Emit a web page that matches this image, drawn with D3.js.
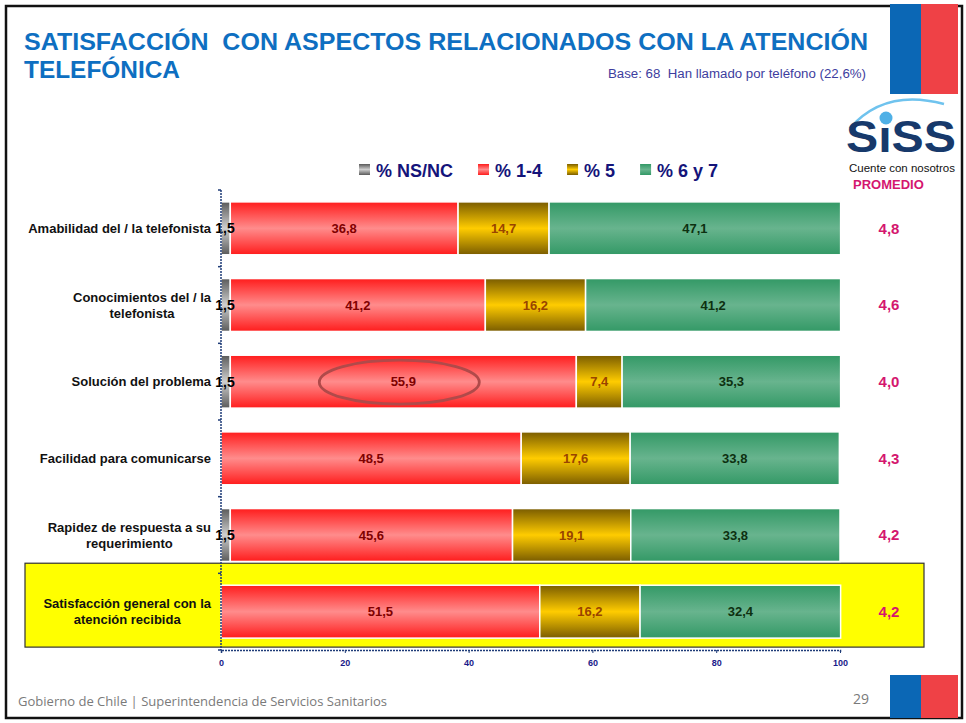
<!DOCTYPE html>
<html>
<head>
<meta charset="utf-8">
<script src="https://cdn.jsdelivr.net/npm/d3@7"></script>
<style>
  html, body { margin: 0; padding: 0; background: #fff; }
  svg { display: block; font-family: "Liberation Sans", Arial, sans-serif; }
  .pre { white-space: pre; }
</style>
</head>
<body>
<svg id="chart" width="966" height="723"></svg>
<script>
// data
const categories = [
  "Amabilidad del / la telefonista",
  "Conocimientos del / la\ntelefonista",
  "Solución del problema",
  "Facilidad para comunicarse",
  "Rapidez de respuesta a su\nrequerimiento",
  "Satisfacción general con la\natención recibida"
];
const seriesNames = ["% NS/NC", "% 1-4", "% 5", "% 6 y 7"];
const nsnc = [1.5, 1.5, 1.5, 0, 1.5, 0];
const r14 = [36.8, 41.2, 55.9, 48.5, 45.6, 51.5];
const r5 = [14.7, 16.2, 7.4, 17.6, 19.1, 16.2];
const r67 = [47.1, 41.2, 35.3, 33.8, 33.8, 32.4];
const promedio = [4.8, 4.6, 4.0, 4.3, 4.2, 4.2];
const xTicks = [0, 20, 40, 60, 80, 100];
const highlighted = "Satisfacción general con la\natención recibida";
const circled = { category: "Solución del problema", series: "% 1-4" };

const fmt = v => d3.format(".1f")(v).replace(".", ",");

const svg = d3.select("#chart");
const defs = svg.append("defs");

// bar gradients (dark edge -> light middle -> dark edge)
const grads = [
  { id: "gGray", edge: "#5a5a5a", mid: "#cfcfcf", text: "#000" },
  { id: "gRed", edge: "#ff1c1c", mid: "#ff8c8c", text: "#800000" },
  { id: "gGold", edge: "#7a5c00", mid: "#ffcc00", text: "#994400" },
  { id: "gGreen", edge: "#339966", mid: "#68b48e", text: "#0d3010" }
];
grads.forEach(g => {
  const lg = defs.append("linearGradient").attr("id", g.id)
    .attr("x1", 0).attr("y1", 0).attr("x2", 0).attr("y2", 1);
  lg.append("stop").attr("offset", "0%").attr("stop-color", g.edge);
  lg.append("stop").attr("offset", "50%").attr("stop-color", g.mid);
  lg.append("stop").attr("offset", "100%").attr("stop-color", g.edge);
});

// slide frame
svg.append("rect").attr("x", 6).attr("y", 6).attr("width", 956).attr("height", 712)
  .attr("fill", "#fff").attr("stroke", "#111").attr("stroke-width", 2.5);

// flags
function flag(y0, h) {
  svg.append("rect").attr("x", 890).attr("y", y0).attr("width", 31).attr("height", h).attr("fill", "#0b67b5");
  svg.append("rect").attr("x", 921).attr("y", y0).attr("width", 37).attr("height", h).attr("fill", "#ef4146");
}
flag(4, 90);
flag(675, 43);

// title
svg.append("text").attr("class", "pre").attr("x", 24).attr("y", 50)
  .attr("textLength", 844).attr("lengthAdjust", "spacingAndGlyphs")
  .style("font-size", "23px").style("font-weight", "bold").attr("fill", "#0e6fc1")
  .text("SATISFACCIÓN  CON ASPECTOS RELACIONADOS CON LA ATENCIÓN");
svg.append("text").attr("x", 24).attr("y", 78)
  .attr("textLength", 156).attr("lengthAdjust", "spacingAndGlyphs")
  .style("font-size", "23px").style("font-weight", "bold").attr("fill", "#0e6fc1")
  .text("TELEFÓNICA");
svg.append("text").attr("class", "pre").attr("x", 866).attr("y", 78).attr("text-anchor", "end")
  .attr("textLength", 258).attr("lengthAdjust", "spacingAndGlyphs")
  .style("font-size", "12px").attr("fill", "#3d3d9e")
  .text("Base: 68  Han llamado por teléfono (22,6%)");

// SiSS logo
svg.append("path").attr("d", "M850,128 Q885,88 944,104")
  .attr("fill", "none").attr("stroke", "#6fc3ee").attr("stroke-width", 2.5);
svg.append("text").attr("x", 846).attr("y", 152)
  .attr("textLength", 110).attr("lengthAdjust", "spacingAndGlyphs")
  .style("font-size", "44px").style("font-weight", "bold").attr("fill", "#17396b")
  .text("SıSS");
svg.append("circle").attr("cx", 886).attr("cy", 118).attr("r", 6.5).attr("fill", "#4fb0e6");
svg.append("text").attr("x", 849).attr("y", 172)
  .attr("textLength", 106).attr("lengthAdjust", "spacingAndGlyphs")
  .style("font-size", "11px").attr("fill", "#111").text("Cuente con nosotros");
svg.append("text").attr("x", 853).attr("y", 189)
  .style("font-size", "13px").style("font-weight", "bold").attr("fill", "#d4166e").text("PROMEDIO");

// scales
const x = d3.scaleLinear().domain([0, 100]).range([221, 840]);
const y = d3.scaleBand().domain(categories).range([190, 650])
  .paddingInner(0.31).paddingOuter(0.155);

// highlight box for the overall row
svg.append("rect")
  .attr("x", 25).attr("y", y(highlighted) - 22)
  .attr("width", 924 - 25).attr("height", y.bandwidth() + 31)
  .attr("fill", "#ffff00").attr("stroke", "#333").attr("stroke-width", 1.2);

// stacked bars
const table = categories.map((c, i) => ({
  cat: c, "% NS/NC": nsnc[i], "% 1-4": r14[i], "% 5": r5[i], "% 6 y 7": r67[i]
}));
const stack = d3.stack().keys(seriesNames)(table);

const layer = svg.append("g").selectAll("g").data(stack).join("g")
  .attr("fill", (d, i) => `url(#${grads[i].id})`);
layer.selectAll("rect").data(d => d.filter(s => s[1] - s[0] > 0)).join("rect")
  .attr("x", d => x(d[0]))
  .attr("y", d => y(d.data.cat))
  .attr("width", d => x(d[1]) - x(d[0]))
  .attr("height", y.bandwidth())
  .attr("stroke", "#fff").attr("stroke-width", 1.5);

// segment labels
stack.forEach((s, i) => {
  svg.append("g").selectAll("text").data(s.filter(d => d[1] - d[0] > 0)).join("text")
    .attr("x", d => i === 0 ? x(d[0]) + 4 : (x(d[0]) + x(d[1])) / 2)
    .attr("y", d => y(d.data.cat) + y.bandwidth() / 2)
    .attr("dy", "0.35em").attr("text-anchor", "middle")
    .style("font-size", i === 0 ? "14px" : "13px").style("font-weight", "bold")
    .attr("fill", grads[i].text)
    .text(d => fmt(d[1] - d[0]));
});

// circled value
const ci = categories.indexOf(circled.category);
const cs = stack[seriesNames.indexOf(circled.series)][ci];
svg.append("ellipse")
  .attr("cx", (x(cs[0]) + x(cs[1])) / 2 - 4)
  .attr("cy", y(circled.category) + y.bandwidth() / 2 + 0.5)
  .attr("rx", 80).attr("ry", 22)
  .attr("fill", "none").attr("stroke", "#b04a4a").attr("stroke-width", 2.8);

// category labels (multi-line centered, block right-aligned)
categories.forEach(c => {
  const lines = c.split("\n");
  const t = svg.append("text").style("font-size", "13px").style("font-weight", "bold")
    .attr("fill", "#111").attr("text-anchor", "middle");
  const spans = lines.map(l => t.append("tspan").text(l));
  const w = d3.max(spans, s => s.node().getComputedTextLength());
  const cy = y(c) + y.bandwidth() / 2;
  spans.forEach((s, k) => {
    s.attr("x", 211 - w / 2).attr("y", cy + (k - (lines.length - 1) / 2) * 16).attr("dy", "0.35em");
  });
});

// promedio
svg.append("g").selectAll("text").data(categories).join("text")
  .attr("x", 889).attr("y", d => y(d) + y.bandwidth() / 2).attr("dy", "0.35em")
  .attr("text-anchor", "middle")
  .style("font-size", "15px").style("font-weight", "bold").attr("fill", "#d4166e")
  .text((d, i) => fmt(promedio[i]));

// axes
const xAxis = svg.append("g").attr("transform", "translate(0,650)")
  .call(d3.axisBottom(x).tickValues(xTicks).tickSize(3).tickFormat(d3.format("d")));
xAxis.select(".domain").attr("stroke", "#1f3c78").attr("stroke-width", 1.5).attr("stroke-dasharray", "2,1");
xAxis.selectAll(".tick line").attr("stroke", "#1f3c78");
xAxis.selectAll(".tick text").attr("fill", "#1a1a8a").style("font-size", "9px")
  .style("font-weight", "bold").attr("dy", "1.1em")
  .style("font-family", "'Liberation Sans', Arial, sans-serif");

const yBounds = d3.range(categories.length + 1).map(i => 190 + i * y.step());
svg.append("line").attr("x1", 221).attr("x2", 221).attr("y1", 190).attr("y2", 650)
  .attr("stroke", "#1f3c78").attr("stroke-width", 1.5).attr("stroke-dasharray", "2,1");
svg.append("g").selectAll("line").data(yBounds).join("line")
  .attr("x1", 218).attr("x2", 221).attr("y1", d => d).attr("y2", d => d)
  .attr("stroke", "#1f3c78").attr("stroke-width", 1.5);

// legend
const legend = svg.append("g");
let lx = 359;
seriesNames.forEach((n, i) => {
  legend.append("rect").attr("x", lx).attr("y", 164).attr("width", 11).attr("height", 11)
    .attr("fill", `url(#${grads[i].id})`);
  const t = legend.append("text").attr("x", lx + 17).attr("y", 177)
    .style("font-size", "18px").style("font-weight", "bold").attr("fill", "#14147a").text(n);
  lx += 17 + t.node().getComputedTextLength() + 25;
});

// footer
svg.append("text").attr("x", 18).attr("y", 706)
  .attr("textLength", 369).attr("lengthAdjust", "spacingAndGlyphs")
  .style("font-size", "12px").style("font-family", "'Open Sans', sans-serif").attr("fill", "#7a7a7a")
  .text("Gobierno de Chile | Superintendencia de Servicios Sanitarios");
svg.append("text").attr("x", 869).attr("y", 704).attr("text-anchor", "end")
  .style("font-size", "14px").style("font-family", "'Open Sans', sans-serif").attr("fill", "#7a7a7a")
  .text("29");
</script>
</body>
</html>
